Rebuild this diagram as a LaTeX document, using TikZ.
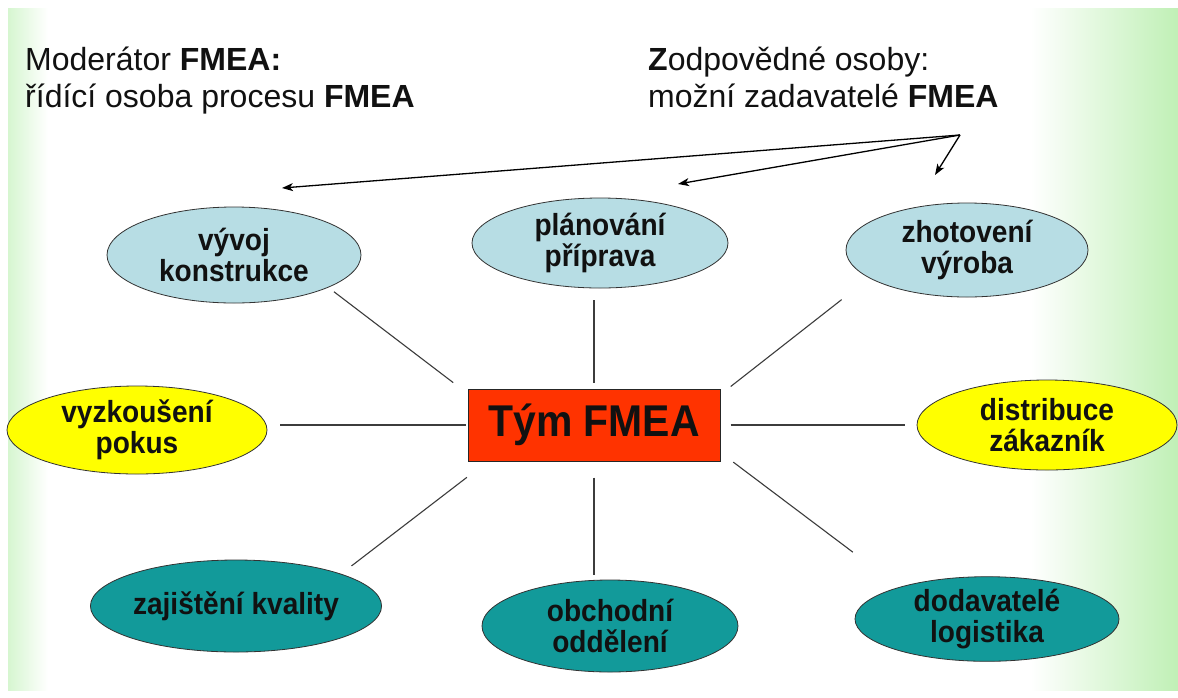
\documentclass[tikz,border=0pt]{standalone}
\usepackage{fontspec}
\setmainfont{Liberation Sans}
\newfontfamily\narrowsans{Liberation Sans}[FakeStretch=0.92]
\usetikzlibrary{shapes.geometric,arrows.meta,calc}

\definecolor{lightblue}{RGB}{183,221,228}
\definecolor{tealfill}{RGB}{18,154,154}
\definecolor{yellowfill}{RGB}{255,255,0}
\definecolor{redfill}{RGB}{255,51,0}
\definecolor{edgegreenL}{RGB}{214,246,208}
\definecolor{edgegreenR}{RGB}{192,240,182}
\definecolor{inkdark}{RGB}{17,17,17}
\definecolor{linkgray}{RGB}{60,60,60}

\tikzset{
  role/.style={ellipse, draw=black!80, line width=0.8pt, inner sep=0pt,
    align=center, text=inkdark,
    font=\narrowsans\fontsize{30.5}{31}\selectfont\bfseries},
  rolelight/.style={role, fill=lightblue},
  roleyellow/.style={role, fill=yellowfill},
  roleteal/.style={role, fill=tealfill},
  teambox/.style={rectangle, draw=black!85, line width=1pt, fill=redfill,
    minimum width=252pt, minimum height=72pt, inner sep=0pt,
    font=\narrowsans\fontsize{44.5}{46}\selectfont\bfseries, text=inkdark},
  heading/.style={anchor=base west, inner sep=0pt, text=inkdark,
    font=\fontsize{32}{38}\selectfont},
  link/.style={draw=linkgray, line width=1.1pt},
  pointer/.style={draw=black, line width=1.3pt,
    -{Stealth[length=11pt,width=8pt,inset=3pt]}}
}

\begin{document}
\begin{tikzpicture}[x=1pt,y=-1pt]
  % page and slide background with green side fades
  \fill[white] (0,0) rectangle (1178,697);
  \useasboundingbox (0,0) rectangle (1178,697);
  \shade[left color=edgegreenL, right color=white] (8,8) rectangle (48,690);
  \shade[left color=white, right color=edgegreenR] (1030,8) rectangle (1178,690);

  % headings
  \node[heading] (mod1) at (25,70) {Moderátor \textbf{FMEA:}};
  \node[heading] (mod2) at (25,107) {řídící osoba procesu \textbf{FMEA}};
  \node[heading] (resp1) at (648,70) {\textbf{Z}odpovědné osoby:};
  \node[heading] (resp2) at (648,107) {možní zadavatelé \textbf{FMEA}};

  % central team box
  \node[teambox] (team) at (594,425) {Tým FMEA};

  % surrounding roles
  \node[rolelight, minimum width=254pt, minimum height=96pt] (dev) at (234,255) {vývoj\\konstrukce};
  \node[rolelight, minimum width=256pt, minimum height=90pt] (plan) at (600,243) {plánování\\příprava};
  \node[rolelight, minimum width=242pt, minimum height=94pt] (prod) at (967,250) {zhotovení\\výroba};
  \node[roleyellow, minimum width=260pt, minimum height=88pt] (test) at (137,430) {vyzkoušení\\pokus};
  \node[roleyellow, minimum width=260pt, minimum height=90pt] (dist) at (1047,425) {distribuce\\zákazník};
  \node[roleteal, minimum width=262pt, minimum height=92pt] (qual) at (236,606) {zajištění kvality};
  \node[roleteal, minimum width=256pt, minimum height=92pt] (sales) at (610,626) {obchodní\\oddělení};
  \node[roleteal, minimum width=264pt, minimum height=82pt] (supp) at (987,619) {dodavatelé\\logistika};

  % spokes from the team box to the roles
  \draw[link, shorten <=7pt, shorten >=18pt] (dev.-19) -- ($(team.north west)+(0,5)$);
  \draw[link, shorten <=12pt, shorten >=6pt] (team.north |- plan.south) -- (team.north);
  \draw[link, shorten <=35pt, shorten >=13pt] (prod.196) -- ($(team.north east)+(0,6)$);
  \draw[link, shorten <=13pt, shorten >=2pt] (test.east |- team.west) -- (team.west);
  \draw[link, shorten <=10pt, shorten >=12pt] (team.east) -- (team.east -| dist.west);
  \draw[link, shorten <=13pt, shorten >=26pt] (qual.17) -- ($(team.south west)+(20,0)$);
  \draw[link, shorten <=16pt, shorten >=5pt] (team.south) -- (team.south |- sales.north);
  \draw[link, shorten <=16pt, shorten >=58pt] ($(team.south east)+(0,-9)$) -- (supp.160);

  % pointers from the responsible persons
  \coordinate (src) at (960,135);
  \coordinate (tipdev) at (282,188);
  \coordinate (tipplan) at (678,184);
  \coordinate (tipprod) at (935,175);
  \draw[pointer] (src) -- (tipdev);
  \draw[pointer] (src) -- (tipplan);
  \draw[pointer] (src) -- (tipprod);
\end{tikzpicture}
\end{document}
